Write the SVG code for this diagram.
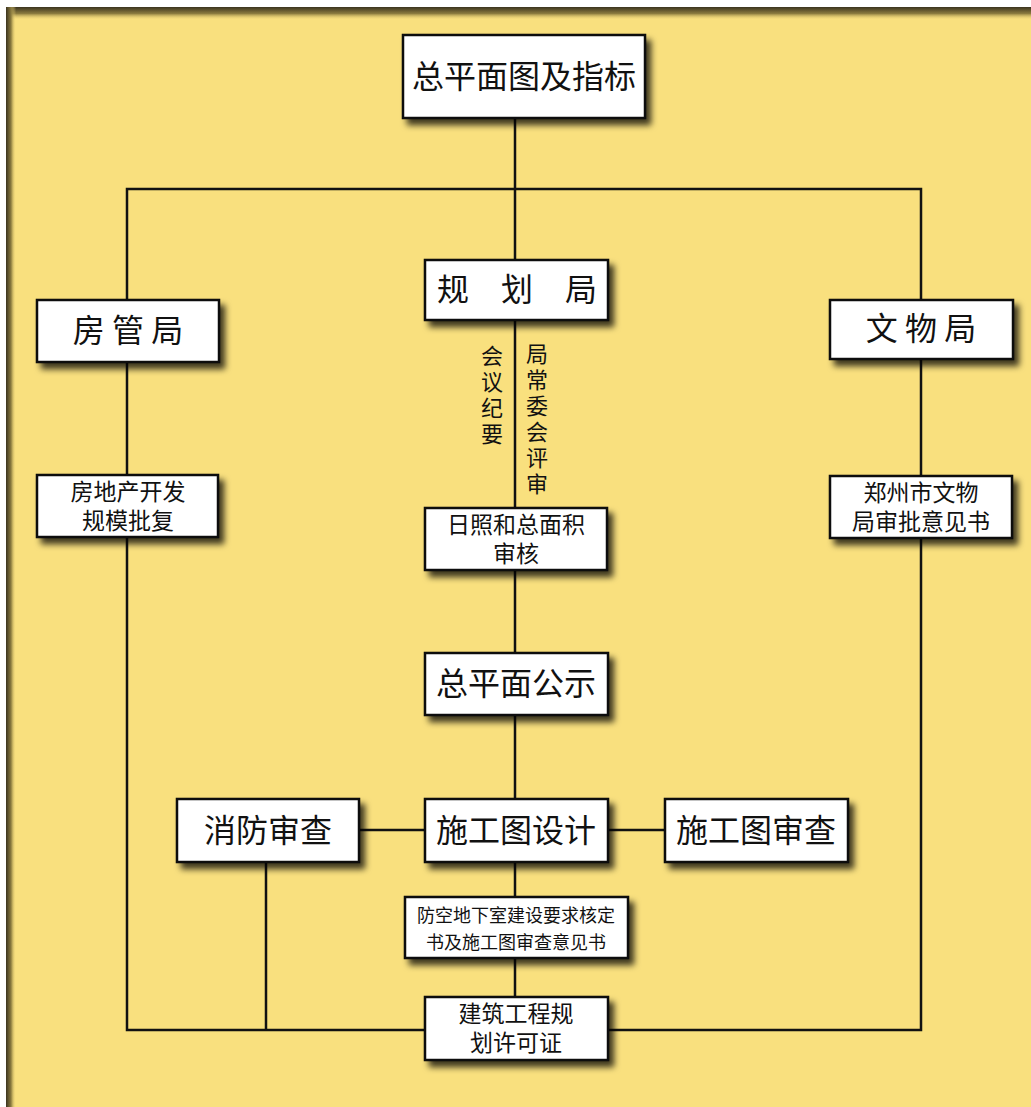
<svg xmlns="http://www.w3.org/2000/svg" width="1031" height="1107" viewBox="0 0 1031 1107">
<defs>
<filter id="sh" x="-10%" y="-10%" width="130%" height="140%">
<feDropShadow dx="5" dy="6" stdDeviation="3" flood-color="#000" flood-opacity="0.75"/>
</filter>
<linearGradient id="gt" x1="0" y1="0" x2="0" y2="1">
<stop offset="0" stop-color="#3b341f"/>
<stop offset="0.5" stop-color="#8a7a3e"/>
<stop offset="1" stop-color="#f9e07e" stop-opacity="0"/>
</linearGradient>
<linearGradient id="gl" x1="0" y1="0" x2="1" y2="0">
<stop offset="0" stop-color="#3b341f"/>
<stop offset="0.5" stop-color="#8a7a3e"/>
<stop offset="1" stop-color="#f9e07e" stop-opacity="0"/>
</linearGradient>
<style>
.box{fill:#fff;stroke:#111;stroke-width:2.5;filter:url(#sh)}
.t{font-family:"Noto Sans CJK SC","Noto Sans CJK JP",sans-serif;fill:#111;text-anchor:middle}
.big{font-size:32px}
.mid{font-size:23px}
.sm{font-size:18px}
.ln{stroke:#111;stroke-width:2.5;fill:none}
.v{font-family:"Noto Sans CJK SC","Noto Sans CJK JP",sans-serif;fill:#111;font-size:22px;writing-mode:vertical-rl;letter-spacing:4px}
</style>
</defs>
<rect x="0" y="0" width="1031" height="1107" fill="#fff"/>
<rect x="6" y="7" width="1025" height="1100" fill="#f9e07e"/>
<rect x="6" y="7" width="1025" height="13" fill="url(#gt)"/>
<rect x="6" y="7" width="10" height="1100" fill="url(#gl)"/>

<g id="connectors">
<path class="ln" d="M515 118 V1000"/>
<path class="ln" d="M127 300 V189 H921 V300"/>
<path class="ln" d="M127 362 V475"/>
<path class="ln" d="M921 359 V476"/>
<path class="ln" d="M127 537 V1030 H425"/>
<path class="ln" d="M921 538 V1030 H608"/>
<path class="ln" d="M266 862 V1030"/>
<path class="ln" d="M359 830 H425"/>
<path class="ln" d="M608 830 H665"/>
</g>

<g id="n1"><rect class="box" x="403" y="35" width="242" height="83"/>
<text class="t big" x="524" y="88">总平面图及指标</text></g>

<g id="n2"><rect class="box" x="425" y="260" width="183" height="60"/>
<text class="t big" x="517" y="301">规　划　局</text></g>

<g id="n3"><rect class="box" x="37" y="300" width="182" height="62"/>
<text class="t big" x="128" y="342">房 管 局</text></g>

<g id="n4"><rect class="box" x="830" y="300" width="183" height="59"/>
<text class="t big" x="921" y="340">文 物 局</text></g>

<g id="n5"><rect class="box" x="37" y="475" width="181" height="62"/>
<text class="t mid" x="128" y="500">房地产开发<tspan x="128" dy="29">规模批复</tspan></text></g>

<g id="n6"><rect class="box" x="830" y="476" width="182" height="62"/>
<text class="t mid" x="921" y="501">郑州市文物<tspan x="921" dy="29">局审批意见书</tspan></text></g>

<g id="lbl">
<text class="v" x="492" y="345">会议纪要</text>
<text class="v" x="537" y="343">局常委会评审</text>
</g>

<g id="n7"><rect class="box" x="425" y="508" width="182" height="62"/>
<text class="t mid" x="516" y="533">日照和总面积<tspan x="516" dy="29">审核</tspan></text></g>

<g id="n8"><rect class="box" x="425" y="653" width="183" height="62"/>
<text class="t big" x="516" y="695">总平面公示</text></g>

<g id="n9"><rect class="box" x="425" y="799" width="183" height="63"/>
<text class="t big" x="516" y="842">施工图设计</text></g>

<g id="n10"><rect class="box" x="177" y="799" width="182" height="63"/>
<text class="t big" x="268" y="842">消防审查</text></g>

<g id="n11"><rect class="box" x="665" y="799" width="183" height="63"/>
<text class="t big" x="756" y="842">施工图审查</text></g>

<g id="n12"><rect class="box" x="405" y="897" width="223" height="61"/>
<text class="t sm" x="516" y="922">防空地下室建设要求核定<tspan x="516" dy="27">书及施工图审查意见书</tspan></text></g>

<g id="n13"><rect class="box" x="425" y="997" width="183" height="63"/>
<text class="t mid" x="516" y="1022">建筑工程规<tspan x="516" dy="29">划许可证</tspan></text></g>
</svg>
